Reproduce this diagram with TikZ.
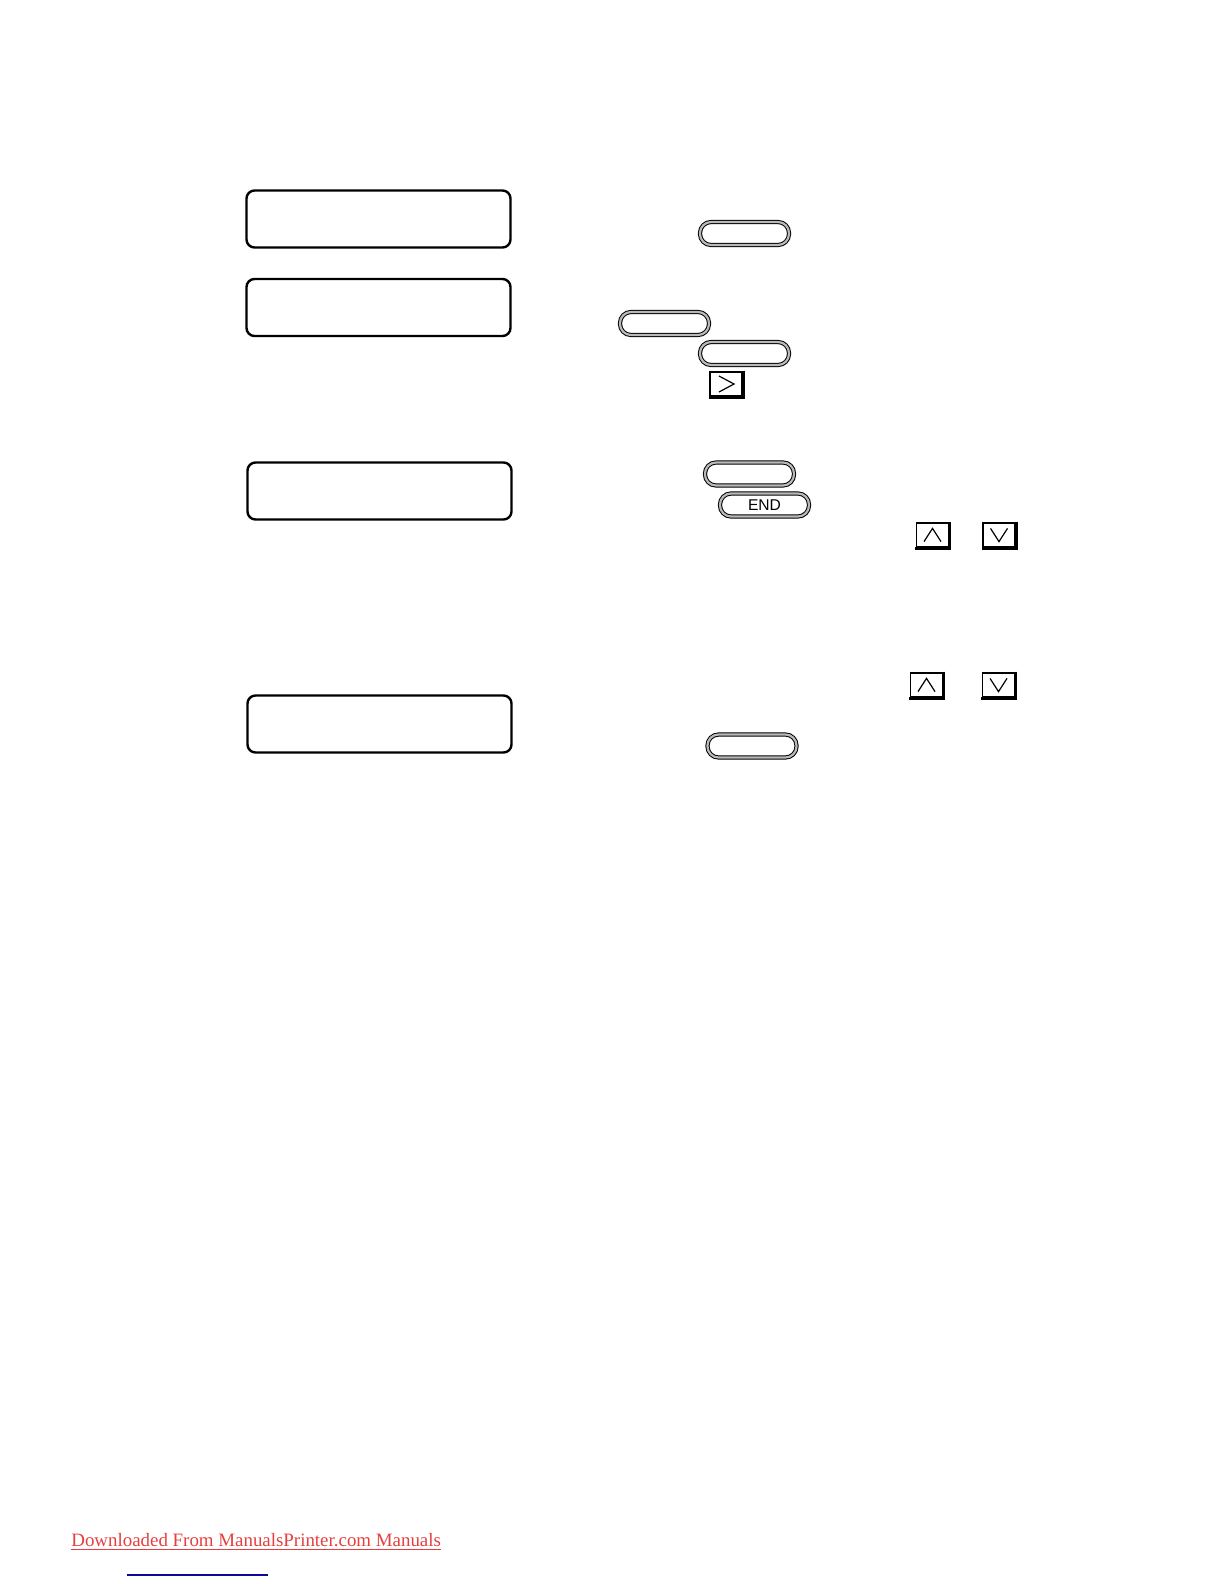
\documentclass[tikz,border=0pt]{standalone}
\usepackage{fontspec}
\setmainfont{Liberation Serif}
\newfontfamily\keyfont{Liberation Sans}
\usetikzlibrary{positioning}
\definecolor{linkred}{RGB}{228,64,64}
\definecolor{linkblue}{RGB}{10,10,150}

\begin{document}
\begin{tikzpicture}[x=0.5pt,y=-0.5pt,
    lcd/.style={draw, line width=1.2pt, rounded corners=4pt, minimum width=132pt, minimum height=28.5pt, inner sep=0pt},
    btn/.style={draw, line width=0.5pt, double=gray!55, double distance=1.1pt, rounded corners=5.5pt,
                minimum width=44.5pt, minimum height=11.5pt, inner sep=0pt, font=\keyfont\fontsize{7.8}{9}\selectfont},
    key/.style={draw, line width=0.7pt, minimum width=16pt, minimum height=12pt, inner sep=0pt}]

    % page size
    \useasboundingbox (0,0) rectangle (1224,1584);

    % LCD display frames
    \foreach \n/\x/\y in {1/378.5/219, 2/378.5/307.5, 3/379.5/491, 4/379.5/724}
        \node[lcd] (lcd\n) at (\x,\y) {};

    % Operation keys (blank ones and END)
    \foreach \n/\x/\y in {1/744.5/233.5, 2/664.5/323.5, 3/744.5/353.5, 4/749.5/474, 6/752/746}
        \node[btn] (btn\n) at (\x,\y) {};
    \node[btn] (btnend) at (764.5,505) {END};

    % Jog keys with a shadow on the right and bottom
    \foreach \n/\x/\y in {right/726/384, upa/932.5/535, downa/999/535, upb/926.5/685, downb/998.5/685}{
        \node[key] (\n) at (\x,\y) {};
        \draw[line width=1.4pt] ([shift={(0.4pt,0.4pt)}]\n.north east) -- ([shift={(0.4pt,-0.4pt)}]\n.south east)
                                 -- ([shift={(-0.4pt,-0.4pt)}]\n.south west);
    }

    % Arrow marks
    \draw[line width=0.6pt] (right.center) ++(-3.5pt,4pt) -- ++(7.5pt,-4pt) -- ++(-7.5pt,-4pt);
    \foreach \n in {upa,upb}
        \draw[line width=0.6pt] (\n.center) ++(-4.25pt,-3.3pt) -- ++(4.25pt,6.6pt) -- ++(4.25pt,-6.6pt);
    \foreach \n in {downa,downb}
        \draw[line width=0.6pt] (\n.center) ++(-4.25pt,3.3pt) -- ++(4.25pt,-6.6pt) -- ++(4.25pt,6.6pt);

    % Footer link
    \node[anchor=base west, inner sep=0pt, text=linkred, font=\fontsize{9.45}{11}\selectfont] (footer) at (71,1546)
        {Downloaded From ManualsPrinter.com Manuals};
    \draw[linkred, line width=0.5pt] ([yshift=-1.6pt]footer.base west) -- ([yshift=-1.6pt]footer.base east);
    \coordinate (bluea) at (127,1575);
    \coordinate (blueb) at (268,1575);
    \draw[linkblue, line width=0.6pt] (bluea) -- (blueb);
\end{tikzpicture}
\end{document}
